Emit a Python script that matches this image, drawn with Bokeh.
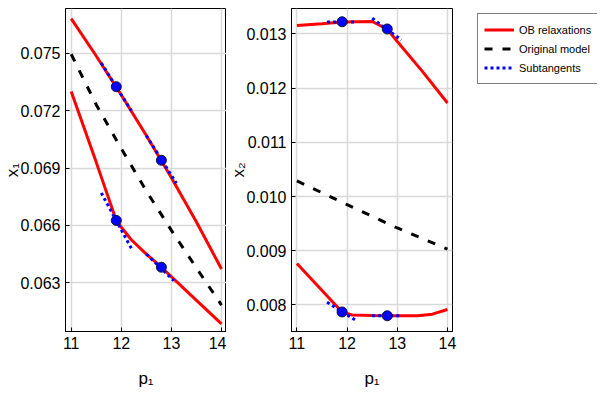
from bokeh.plotting import figure
from bokeh.layouts import row
from bokeh.models import Range1d, FixedTicker, PrintfTickFormatter
from bokeh.embed import file_html
from bokeh.resources import INLINE

# ---------------- data ----------------
x_ticks = [11, 12, 13, 14]
x1_ticks = [0.063, 0.066, 0.069, 0.072, 0.075]
x2_ticks = [0.008, 0.009, 0.010, 0.011, 0.012, 0.013]

# left panel: x1 vs p1
x1_upper_p = [11.0, 11.5, 12.0, 12.5, 13.0, 13.5, 14.0]
x1_upper_v = [0.07683, 0.07487, 0.07283, 0.07071, 0.06849, 0.06618, 0.06372]
x1_lower_p = [11.0, 11.5, 11.9, 12.0, 12.2, 12.5, 12.8, 13.4, 14.0]
x1_lower_v = [0.07301, 0.06930, 0.06626, 0.06590, 0.06525, 0.06450, 0.06381, 0.06232, 0.06084]
x1_orig_p = [11.0, 11.5, 12.0, 12.5, 13.0, 13.5, 14.0]
x1_orig_v = [0.07496, 0.07232, 0.07002, 0.06780, 0.06574, 0.06377, 0.06183]
x1_pts_p = [11.9, 12.8, 11.9, 12.8]
x1_pts_v = [0.07326, 0.06941, 0.06626, 0.06381]
x1_sub_p = [[11.6, 12.2], [12.5, 13.1], [11.6, 12.2], [12.5, 13.05]]
x1_sub_v = [[0.0745, 0.0720], [0.0707, 0.0682], [0.0677, 0.0648], [0.0645, 0.0631]]

# right panel: x2 vs p1
x2_upper_p = [11.0, 11.5, 11.9, 12.5, 12.8, 13.0, 13.5, 14.0]
x2_upper_v = [0.013157, 0.013190, 0.013219, 0.013230, 0.013090, 0.012860, 0.012310, 0.011726]
x2_lower_p = [11.0, 11.5, 11.9, 12.1, 12.5, 13.0, 13.4, 13.7, 14.0]
x2_lower_v = [0.008766, 0.008268, 0.007870, 0.007815, 0.007804, 0.007800, 0.007800, 0.007830, 0.007915]
x2_orig_p = [11.0, 12.0, 13.0, 14.0]
x2_orig_v = [0.01029, 0.00985, 0.00942, 0.00903]
x2_pts_p = [11.9, 12.8, 11.9, 12.8]
x2_pts_v = [0.013225, 0.013092, 0.007870, 0.007800]
x2_sub_p = [[11.6, 12.15], [12.5, 13.08], [11.6, 12.2], [12.5, 13.05]]
x2_sub_v = [[0.01322, 0.01322], [0.01329, 0.01289], [0.00805, 0.00770], [0.00780, 0.00780]]

legend_labels = ["OB relaxations", "Original model", "Subtangents"]

RED = "#ff0000"
BLUE = "#0000ff"
FONT = "Liberation Sans"
DASH = "8 10"
DOT = "3 3"


def style(p, yticks, ylabel):
    p.outline_line_color = "black"
    p.outline_line_width = 1
    p.background_fill_color = "white"
    p.border_fill_color = "white"
    p.xaxis.ticker = FixedTicker(ticks=x_ticks)
    p.yaxis.ticker = FixedTicker(ticks=yticks)
    p.yaxis.formatter = PrintfTickFormatter(format="%.3f")
    p.xaxis.axis_label = "p\u2081"
    p.yaxis.axis_label = ylabel
    for ax in p.axis:
        ax.major_tick_in = 4
        ax.major_tick_out = 0
        ax.minor_tick_line_color = None
        ax.axis_line_color = "black"
        ax.major_tick_line_color = "black"
        ax.major_label_text_font = FONT
        ax.major_label_text_font_size = "16px"
        ax.major_label_text_color = "black"
        ax.axis_label_text_font = FONT
        ax.axis_label_text_font_size = "17px"
        ax.axis_label_text_font_style = "normal"
        ax.axis_label_text_color = "black"
    p.xaxis.major_label_standoff = 5
    p.xaxis.axis_label_standoff = 17
    p.yaxis.major_label_standoff = 5
    p.yaxis.axis_label_standoff = -5
    p.grid.grid_line_color = "#d9d9d9"
    p.grid.grid_line_width = 1.5


def panel(xr, yr, upper, lower, orig, pts, subs, yticks, ylabel, mbl, mbr):
    p = figure(frame_width=161, frame_height=323, x_range=Range1d(*xr), y_range=Range1d(*yr),
               output_backend="svg", toolbar_location=None,
               min_border_top=8, min_border_left=mbl, min_border_right=mbr, min_border_bottom=10)
    style(p, yticks, ylabel)
    p.line(upper[0], upper[1], line_color=RED, line_width=3)
    p.line(lower[0], lower[1], line_color=RED, line_width=3)
    p.line(orig[0], orig[1], line_color="black", line_width=3, line_dash=DASH)
    for sp, sv in zip(subs[0], subs[1]):
        p.line(sp, sv, line_color=BLUE, line_width=3, line_dash=DOT)
    p.scatter(pts[0], pts[1], size=10, fill_color=BLUE, line_color="#111133", line_width=1)
    return p


p1 = panel((10.886, 14.1), (0.060445, 0.077356),
           (x1_upper_p, x1_upper_v), (x1_lower_p, x1_lower_v), (x1_orig_p, x1_orig_v),
           (x1_pts_p, x1_pts_v), (x1_sub_p, x1_sub_v), x1_ticks, "x\u2081", 30, 0)
p2 = panel((10.892, 14.1), (0.00751, 0.01347),
           (x2_upper_p, x2_upper_v), (x2_lower_p, x2_lower_v), (x2_orig_p, x2_orig_v),
           (x2_pts_p, x2_pts_v), (x2_sub_p, x2_sub_v), x2_ticks, "x\u2082", 30, 10)

# legend panel: the series are drawn here outside the visible range, only the legend shows
p3 = figure(width=135, height=386, x_range=Range1d(0, 1), y_range=Range1d(0, 1),
            output_backend="svg", toolbar_location=None,
            x_axis_location=None, y_axis_location=None,
            min_border_left=10, min_border_top=0, min_border_right=0, min_border_bottom=0)
p3.outline_line_color = None
p3.grid.visible = False
p3.line(x1_upper_p, x1_upper_v, line_color=RED, line_width=3, legend_label=legend_labels[0])
p3.line(x1_orig_p, x1_orig_v, line_color="black", line_width=3, line_dash=DASH,
        legend_label=legend_labels[1])
p3.line(x1_sub_p[0], x1_sub_v[0], line_color=BLUE, line_width=3, line_dash=DOT,
        legend_label=legend_labels[2])
lg = p3.legend[0]
lg.location = "top_left"
lg.margin = 5
lg.padding = 6
lg.spacing = 0
lg.glyph_width = 30
lg.glyph_height = 19
lg.label_height = 19
lg.label_standoff = 5
lg.label_text_font = FONT
lg.label_text_font_size = "11px"
lg.label_text_color = "black"
lg.border_line_color = "black"
lg.border_line_width = 1
lg.background_fill_color = "white"
lg.background_fill_alpha = 1

layout = row(p1, p2, p3)
open("out.html", "w").write(file_html(layout, INLINE))
